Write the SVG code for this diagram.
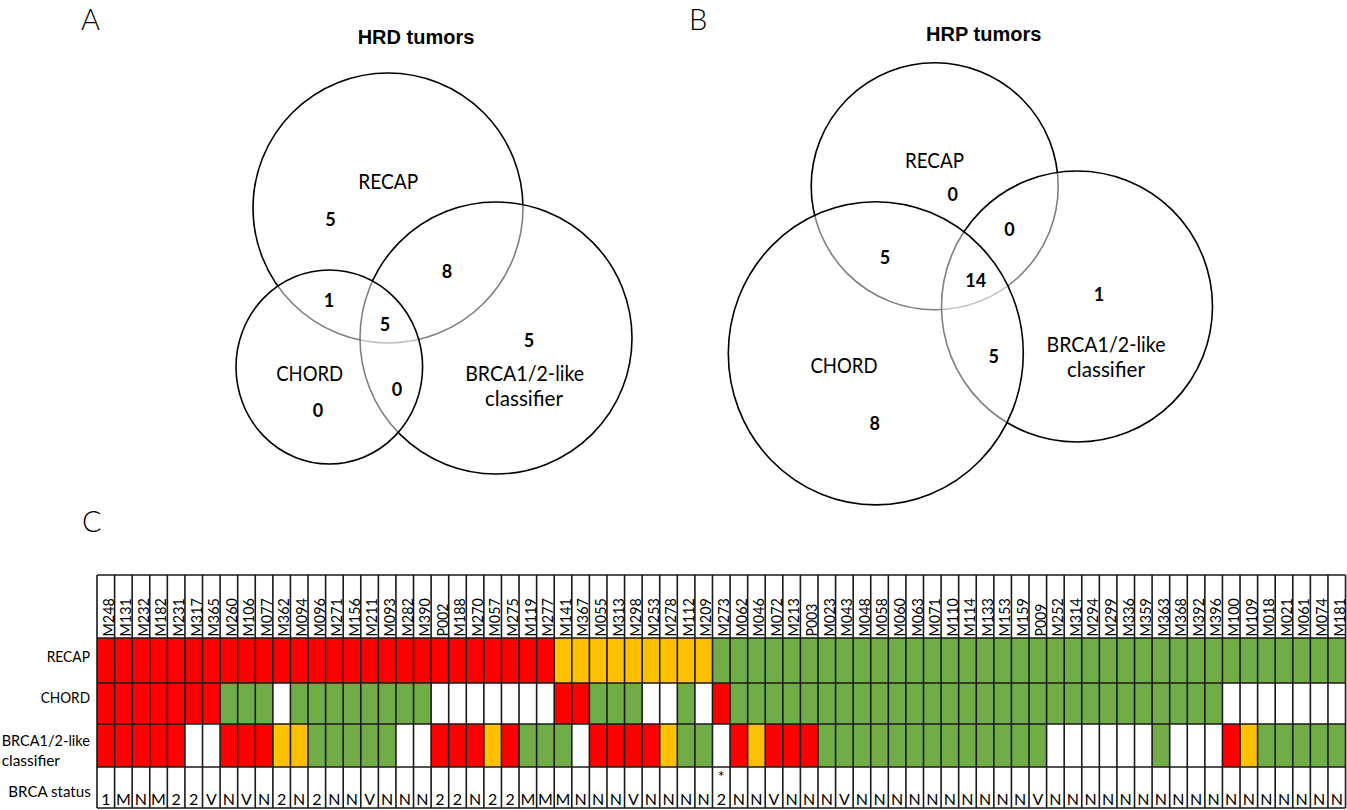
<svg xmlns="http://www.w3.org/2000/svg" width="1347" height="810" viewBox="0 0 1347 810">
<style>
.pl{font-family:Lato,'Liberation Sans',sans-serif;font-weight:300;font-size:29px;fill:#000}
.ttl{font-family:'Liberation Sans',Arial,sans-serif;font-weight:bold;font-size:20px;text-anchor:middle;fill:#000}
.ven{fill:#fff;fill-opacity:0.5;stroke:#000;stroke-width:1.6}
.vl{font-family:Lato,'Liberation Sans',sans-serif;font-size:22px;text-anchor:middle;fill:#000}
.num{font-family:Lato,'Liberation Sans',sans-serif;font-weight:bold;font-size:18px;text-anchor:middle;fill:#000}
.hd{font-family:Lato,'Liberation Sans',sans-serif;font-size:15.5px;fill:#000}
.st{font-family:Lato,'Liberation Sans',sans-serif;font-size:16px;text-anchor:middle;fill:#000}
.rl{font-family:Lato,'Liberation Sans',sans-serif;font-size:16px;fill:#000}
.r{fill:#FF0000}.o{fill:#FFC000}.g{fill:#70AD47}.w{fill:#FFFFFF}
.grid{fill:none;stroke:#1a1a1a;stroke-width:1.6}
</style>
<rect width="1347" height="810" fill="#fff"/>

<!-- Panel A -->
<g id="panelA">
<text class="pl" x="81" y="29.5">A</text>
<text class="ttl" x="416" y="44">HRD tumors</text>
<g id="A-recap"><circle class="ven" cx="388" cy="208" r="135"/></g>
<g id="A-brca"><circle class="ven" cx="496" cy="338" r="136"/></g>
<g id="A-chord"><ellipse class="ven" cx="329.3" cy="367" rx="93.3" ry="97"/></g>
<text class="vl" x="388.3" y="189.3" textLength="60" lengthAdjust="spacingAndGlyphs">RECAP</text>
<text class="vl" x="309.7" y="380.7" textLength="67" lengthAdjust="spacingAndGlyphs">CHORD</text>
<text class="vl" x="524.7" y="380.7" textLength="119" lengthAdjust="spacingAndGlyphs">BRCA1/2-like</text>
<text class="vl" x="524" y="405.5" textLength="78" lengthAdjust="spacingAndGlyphs">classifier</text>
<text class="num" x="330.5" y="226">5</text>
<text class="num" x="447" y="278.3">8</text>
<text class="num" x="329" y="307.3">1</text>
<text class="num" x="385" y="331">5</text>
<text class="num" x="529" y="346.7">5</text>
<text class="num" x="397" y="396">0</text>
<text class="num" x="318" y="416.7">0</text>
</g>

<!-- Panel B -->
<g id="panelB">
<text class="pl" x="689" y="29.5">B</text>
<text class="ttl" x="983.7" y="40.7">HRP tumors</text>
<g id="B-recap"><circle class="ven" cx="934.7" cy="186.3" r="123.5"/></g>
<g id="B-brca"><circle class="ven" cx="1077" cy="306.5" r="135.5"/></g>
<g id="B-chord"><ellipse class="ven" cx="875.8" cy="353.3" rx="147.5" ry="151.6"/></g>
<text class="vl" x="934.5" y="167.7" textLength="59" lengthAdjust="spacingAndGlyphs">RECAP</text>
<text class="vl" x="844" y="372.7" textLength="67" lengthAdjust="spacingAndGlyphs">CHORD</text>
<text class="vl" x="1106" y="351.7" textLength="119" lengthAdjust="spacingAndGlyphs">BRCA1/2-like</text>
<text class="vl" x="1106" y="376.5" textLength="78" lengthAdjust="spacingAndGlyphs">classifier</text>
<text class="num" x="952.8" y="200.7">0</text>
<text class="num" x="1009.5" y="236">0</text>
<text class="num" x="885" y="264">5</text>
<text class="num" x="975.8" y="287.3">14</text>
<text class="num" x="1099" y="300.7">1</text>
<text class="num" x="993.7" y="362.7">5</text>
<text class="num" x="874.7" y="430">8</text>
</g>

<!-- Panel C -->
<g id="panelC">
<text class="pl" x="82" y="531.7">C</text>
<text class="rl" x="90" y="661.7" text-anchor="end" textLength="43.3" lengthAdjust="spacingAndGlyphs">RECAP</text>
<text class="rl" x="90" y="703.3" text-anchor="end" textLength="49.3" lengthAdjust="spacingAndGlyphs">CHORD</text>
<text class="rl" x="1.7" y="745.7" textLength="88.3" lengthAdjust="spacingAndGlyphs">BRCA1/2-like</text>
<text class="rl" x="1.7" y="765.5" textLength="58.3" lengthAdjust="spacingAndGlyphs">classifier</text>
<text class="rl" x="8.3" y="797.3" textLength="82.4" lengthAdjust="spacingAndGlyphs">BRCA status</text>

<g id="cells">
<rect x="97" y="575" width="1248.54" height="233" class="w"/>
<!-- RECAP row -->
<rect class="r" x="97" y="638" width="457.21" height="45"/>
<rect class="o" x="554.21" y="638" width="158.27" height="45"/>
<rect class="g" x="712.48" y="638" width="633.06" height="45"/>
<!-- CHORD row -->
<rect class="r" x="97" y="683" width="123.1" height="41"/>
<rect class="g" x="220.1" y="683" width="52.75" height="41"/>
<rect class="g" x="290.44" y="683" width="140.68" height="41"/>
<rect class="r" x="554.21" y="683" width="35.17" height="41"/>
<rect class="g" x="589.38" y="683" width="52.76" height="41"/>
<rect class="g" x="677.31" y="683" width="17.58" height="41"/>
<rect class="r" x="712.48" y="683" width="17.58" height="41"/>
<rect class="g" x="730.06" y="683" width="492.38" height="41"/>
<!-- BRCA row -->
<rect class="r" x="97" y="724" width="87.93" height="43"/>
<rect class="r" x="220.1" y="724" width="52.75" height="43"/>
<rect class="o" x="272.85" y="724" width="35.17" height="43"/>
<rect class="g" x="308.02" y="724" width="87.93" height="43"/>
<rect class="r" x="431.12" y="724" width="52.75" height="43"/>
<rect class="o" x="483.87" y="724" width="17.59" height="43"/>
<rect class="r" x="501.46" y="724" width="17.58" height="43"/>
<rect class="g" x="519.04" y="724" width="52.76" height="43"/>
<rect class="r" x="589.38" y="724" width="70.34" height="43"/>
<rect class="o" x="659.72" y="724" width="17.59" height="43"/>
<rect class="g" x="677.31" y="724" width="35.17" height="43"/>
<rect class="r" x="730.06" y="724" width="17.59" height="43"/>
<rect class="o" x="747.65" y="724" width="17.58" height="43"/>
<rect class="r" x="765.23" y="724" width="52.76" height="43"/>
<rect class="g" x="817.99" y="724" width="228.6" height="43"/>
<rect class="g" x="1152.1" y="724" width="17.59" height="43"/>
<rect class="r" x="1222.44" y="724" width="17.59" height="43"/>
<rect class="o" x="1240.03" y="724" width="17.58" height="43"/>
<rect class="g" x="1257.61" y="724" width="87.93" height="43"/>
</g>

<path class="grid" d="M97 575H1345.54M97 638H1345.54M97 683H1345.54M97 724H1345.54M97 767H1345.54M97 808H1345.54
M97 575V808M114.59 575V808M132.17 575V808M149.76 575V808M167.34 575V808M184.93 575V808M202.51 575V808M220.1 575V808M237.68 575V808M255.27 575V808
M272.85 575V808M290.44 575V808M308.02 575V808M325.61 575V808M343.19 575V808M360.78 575V808M378.36 575V808M395.95 575V808M413.53 575V808M431.12 575V808
M448.7 575V808M466.29 575V808M483.87 575V808M501.46 575V808M519.04 575V808M536.63 575V808M554.21 575V808M571.8 575V808M589.38 575V808M606.97 575V808
M624.55 575V808M642.14 575V808M659.72 575V808M677.31 575V808M694.89 575V808M712.48 575V808M730.06 575V808M747.65 575V808M765.23 575V808M782.82 575V808
M800.4 575V808M817.99 575V808M835.57 575V808M853.16 575V808M870.74 575V808M888.33 575V808M905.91 575V808M923.5 575V808M941.08 575V808M958.67 575V808
M976.25 575V808M993.84 575V808M1011.42 575V808M1029.01 575V808M1046.59 575V808M1064.18 575V808M1081.76 575V808M1099.35 575V808M1116.93 575V808M1134.52 575V808
M1152.1 575V808M1169.69 575V808M1187.27 575V808M1204.86 575V808M1222.44 575V808M1240.03 575V808M1257.61 575V808M1275.2 575V808M1292.78 575V808M1310.37 575V808
M1327.95 575V808M1345.54 575V808"/>

<g id="headers" class="hd">
<text transform="translate(113.59 636.5) rotate(-90)" textLength="38.3" lengthAdjust="spacingAndGlyphs">M248</text>
<text transform="translate(131.17 636.5) rotate(-90)" textLength="38.3" lengthAdjust="spacingAndGlyphs">M131</text>
<text transform="translate(148.76 636.5) rotate(-90)" textLength="38.3" lengthAdjust="spacingAndGlyphs">M232</text>
<text transform="translate(166.34 636.5) rotate(-90)" textLength="38.3" lengthAdjust="spacingAndGlyphs">M182</text>
<text transform="translate(183.93 636.5) rotate(-90)" textLength="38.3" lengthAdjust="spacingAndGlyphs">M231</text>
<text transform="translate(201.51 636.5) rotate(-90)" textLength="38.3" lengthAdjust="spacingAndGlyphs">M317</text>
<text transform="translate(219.1 636.5) rotate(-90)" textLength="38.3" lengthAdjust="spacingAndGlyphs">M365</text>
<text transform="translate(236.68 636.5) rotate(-90)" textLength="38.3" lengthAdjust="spacingAndGlyphs">M260</text>
<text transform="translate(254.27 636.5) rotate(-90)" textLength="38.3" lengthAdjust="spacingAndGlyphs">M106</text>
<text transform="translate(271.85 636.5) rotate(-90)" textLength="38.3" lengthAdjust="spacingAndGlyphs">M077</text>
<text transform="translate(289.44 636.5) rotate(-90)" textLength="38.3" lengthAdjust="spacingAndGlyphs">M362</text>
<text transform="translate(307.02 636.5) rotate(-90)" textLength="38.3" lengthAdjust="spacingAndGlyphs">M094</text>
<text transform="translate(324.61 636.5) rotate(-90)" textLength="38.3" lengthAdjust="spacingAndGlyphs">M096</text>
<text transform="translate(342.19 636.5) rotate(-90)" textLength="38.3" lengthAdjust="spacingAndGlyphs">M271</text>
<text transform="translate(359.78 636.5) rotate(-90)" textLength="38.3" lengthAdjust="spacingAndGlyphs">M156</text>
<text transform="translate(377.36 636.5) rotate(-90)" textLength="38.3" lengthAdjust="spacingAndGlyphs">M211</text>
<text transform="translate(394.95 636.5) rotate(-90)" textLength="38.3" lengthAdjust="spacingAndGlyphs">M093</text>
<text transform="translate(412.53 636.5) rotate(-90)" textLength="38.3" lengthAdjust="spacingAndGlyphs">M282</text>
<text transform="translate(430.12 636.5) rotate(-90)" textLength="38.3" lengthAdjust="spacingAndGlyphs">M390</text>
<text transform="translate(447.7 636.5) rotate(-90)" textLength="32.8" lengthAdjust="spacingAndGlyphs">P002</text>
<text transform="translate(465.29 636.5) rotate(-90)" textLength="38.3" lengthAdjust="spacingAndGlyphs">M188</text>
<text transform="translate(482.87 636.5) rotate(-90)" textLength="38.3" lengthAdjust="spacingAndGlyphs">M270</text>
<text transform="translate(500.46 636.5) rotate(-90)" textLength="38.3" lengthAdjust="spacingAndGlyphs">M057</text>
<text transform="translate(518.04 636.5) rotate(-90)" textLength="38.3" lengthAdjust="spacingAndGlyphs">M275</text>
<text transform="translate(535.63 636.5) rotate(-90)" textLength="38.3" lengthAdjust="spacingAndGlyphs">M119</text>
<text transform="translate(553.21 636.5) rotate(-90)" textLength="38.3" lengthAdjust="spacingAndGlyphs">M277</text>
<text transform="translate(570.8 636.5) rotate(-90)" textLength="38.3" lengthAdjust="spacingAndGlyphs">M141</text>
<text transform="translate(588.38 636.5) rotate(-90)" textLength="38.3" lengthAdjust="spacingAndGlyphs">M367</text>
<text transform="translate(605.97 636.5) rotate(-90)" textLength="38.3" lengthAdjust="spacingAndGlyphs">M055</text>
<text transform="translate(623.55 636.5) rotate(-90)" textLength="38.3" lengthAdjust="spacingAndGlyphs">M313</text>
<text transform="translate(641.14 636.5) rotate(-90)" textLength="38.3" lengthAdjust="spacingAndGlyphs">M298</text>
<text transform="translate(658.72 636.5) rotate(-90)" textLength="38.3" lengthAdjust="spacingAndGlyphs">M253</text>
<text transform="translate(676.31 636.5) rotate(-90)" textLength="38.3" lengthAdjust="spacingAndGlyphs">M278</text>
<text transform="translate(693.89 636.5) rotate(-90)" textLength="38.3" lengthAdjust="spacingAndGlyphs">M112</text>
<text transform="translate(711.48 636.5) rotate(-90)" textLength="38.3" lengthAdjust="spacingAndGlyphs">M209</text>
<text transform="translate(729.06 636.5) rotate(-90)" textLength="38.3" lengthAdjust="spacingAndGlyphs">M273</text>
<text transform="translate(746.65 636.5) rotate(-90)" textLength="38.3" lengthAdjust="spacingAndGlyphs">M062</text>
<text transform="translate(764.23 636.5) rotate(-90)" textLength="38.3" lengthAdjust="spacingAndGlyphs">M046</text>
<text transform="translate(781.82 636.5) rotate(-90)" textLength="38.3" lengthAdjust="spacingAndGlyphs">M072</text>
<text transform="translate(799.4 636.5) rotate(-90)" textLength="38.3" lengthAdjust="spacingAndGlyphs">M213</text>
<text transform="translate(816.99 636.5) rotate(-90)" textLength="32.8" lengthAdjust="spacingAndGlyphs">P003</text>
<text transform="translate(834.57 636.5) rotate(-90)" textLength="38.3" lengthAdjust="spacingAndGlyphs">M023</text>
<text transform="translate(852.16 636.5) rotate(-90)" textLength="38.3" lengthAdjust="spacingAndGlyphs">M043</text>
<text transform="translate(869.74 636.5) rotate(-90)" textLength="38.3" lengthAdjust="spacingAndGlyphs">M048</text>
<text transform="translate(887.33 636.5) rotate(-90)" textLength="38.3" lengthAdjust="spacingAndGlyphs">M058</text>
<text transform="translate(904.91 636.5) rotate(-90)" textLength="38.3" lengthAdjust="spacingAndGlyphs">M060</text>
<text transform="translate(922.5 636.5) rotate(-90)" textLength="38.3" lengthAdjust="spacingAndGlyphs">M063</text>
<text transform="translate(940.08 636.5) rotate(-90)" textLength="38.3" lengthAdjust="spacingAndGlyphs">M071</text>
<text transform="translate(957.67 636.5) rotate(-90)" textLength="38.3" lengthAdjust="spacingAndGlyphs">M110</text>
<text transform="translate(975.25 636.5) rotate(-90)" textLength="38.3" lengthAdjust="spacingAndGlyphs">M114</text>
<text transform="translate(992.84 636.5) rotate(-90)" textLength="38.3" lengthAdjust="spacingAndGlyphs">M133</text>
<text transform="translate(1010.42 636.5) rotate(-90)" textLength="38.3" lengthAdjust="spacingAndGlyphs">M153</text>
<text transform="translate(1028.01 636.5) rotate(-90)" textLength="38.3" lengthAdjust="spacingAndGlyphs">M159</text>
<text transform="translate(1045.59 636.5) rotate(-90)" textLength="32.8" lengthAdjust="spacingAndGlyphs">P009</text>
<text transform="translate(1063.18 636.5) rotate(-90)" textLength="38.3" lengthAdjust="spacingAndGlyphs">M252</text>
<text transform="translate(1080.76 636.5) rotate(-90)" textLength="38.3" lengthAdjust="spacingAndGlyphs">M314</text>
<text transform="translate(1098.35 636.5) rotate(-90)" textLength="38.3" lengthAdjust="spacingAndGlyphs">M294</text>
<text transform="translate(1115.93 636.5) rotate(-90)" textLength="38.3" lengthAdjust="spacingAndGlyphs">M299</text>
<text transform="translate(1133.52 636.5) rotate(-90)" textLength="38.3" lengthAdjust="spacingAndGlyphs">M336</text>
<text transform="translate(1151.1 636.5) rotate(-90)" textLength="38.3" lengthAdjust="spacingAndGlyphs">M359</text>
<text transform="translate(1168.69 636.5) rotate(-90)" textLength="38.3" lengthAdjust="spacingAndGlyphs">M363</text>
<text transform="translate(1186.27 636.5) rotate(-90)" textLength="38.3" lengthAdjust="spacingAndGlyphs">M368</text>
<text transform="translate(1203.86 636.5) rotate(-90)" textLength="38.3" lengthAdjust="spacingAndGlyphs">M392</text>
<text transform="translate(1221.44 636.5) rotate(-90)" textLength="38.3" lengthAdjust="spacingAndGlyphs">M396</text>
<text transform="translate(1239.03 636.5) rotate(-90)" textLength="38.3" lengthAdjust="spacingAndGlyphs">M100</text>
<text transform="translate(1256.61 636.5) rotate(-90)" textLength="38.3" lengthAdjust="spacingAndGlyphs">M109</text>
<text transform="translate(1274.2 636.5) rotate(-90)" textLength="38.3" lengthAdjust="spacingAndGlyphs">M018</text>
<text transform="translate(1291.78 636.5) rotate(-90)" textLength="38.3" lengthAdjust="spacingAndGlyphs">M021</text>
<text transform="translate(1309.37 636.5) rotate(-90)" textLength="38.3" lengthAdjust="spacingAndGlyphs">M061</text>
<text transform="translate(1326.95 636.5) rotate(-90)" textLength="38.3" lengthAdjust="spacingAndGlyphs">M074</text>
<text transform="translate(1344.54 636.5) rotate(-90)" textLength="38.3" lengthAdjust="spacingAndGlyphs">M181</text>
</g>

<g id="status" class="st">
<text x="105.79" y="805">1</text>
<text x="123.38" y="805">M</text>
<text x="140.96" y="805">N</text>
<text x="158.55" y="805">M</text>
<text x="176.13" y="805">2</text>
<text x="193.72" y="805">2</text>
<text x="211.3" y="805">V</text>
<text x="228.89" y="805">N</text>
<text x="246.47" y="805">V</text>
<text x="264.06" y="805">N</text>
<text x="281.64" y="805">2</text>
<text x="299.23" y="805">N</text>
<text x="316.81" y="805">2</text>
<text x="334.4" y="805">N</text>
<text x="351.98" y="805">N</text>
<text x="369.57" y="805">V</text>
<text x="387.15" y="805">N</text>
<text x="404.74" y="805">N</text>
<text x="422.32" y="805">N</text>
<text x="439.91" y="805">2</text>
<text x="457.49" y="805">2</text>
<text x="475.08" y="805">N</text>
<text x="492.66" y="805">2</text>
<text x="510.25" y="805">2</text>
<text x="527.83" y="805">M</text>
<text x="545.42" y="805">M</text>
<text x="563" y="805">M</text>
<text x="580.59" y="805">N</text>
<text x="598.17" y="805">N</text>
<text x="615.76" y="805">N</text>
<text x="633.34" y="805">V</text>
<text x="650.93" y="805">N</text>
<text x="668.51" y="805">N</text>
<text x="686.1" y="805">N</text>
<text x="703.68" y="805">N</text>
<text x="721.27" y="782">*</text>
<text x="721.27" y="805">2</text>
<text x="738.85" y="805">N</text>
<text x="756.44" y="805">N</text>
<text x="774.02" y="805">V</text>
<text x="791.61" y="805">N</text>
<text x="809.19" y="805">N</text>
<text x="826.78" y="805">N</text>
<text x="844.36" y="805">V</text>
<text x="861.95" y="805">N</text>
<text x="879.53" y="805">N</text>
<text x="897.12" y="805">N</text>
<text x="914.7" y="805">N</text>
<text x="932.29" y="805">N</text>
<text x="949.87" y="805">N</text>
<text x="967.46" y="805">N</text>
<text x="985.04" y="805">N</text>
<text x="1002.63" y="805">N</text>
<text x="1020.21" y="805">N</text>
<text x="1037.8" y="805">V</text>
<text x="1055.38" y="805">N</text>
<text x="1072.97" y="805">N</text>
<text x="1090.55" y="805">N</text>
<text x="1108.14" y="805">N</text>
<text x="1125.72" y="805">N</text>
<text x="1143.31" y="805">N</text>
<text x="1160.89" y="805">N</text>
<text x="1178.48" y="805">N</text>
<text x="1196.06" y="805">N</text>
<text x="1213.65" y="805">N</text>
<text x="1231.23" y="805">N</text>
<text x="1248.82" y="805">N</text>
<text x="1266.4" y="805">N</text>
<text x="1283.99" y="805">N</text>
<text x="1301.57" y="805">N</text>
<text x="1319.16" y="805">N</text>
<text x="1336.74" y="805">N</text>
</g>
</g>
</svg>
